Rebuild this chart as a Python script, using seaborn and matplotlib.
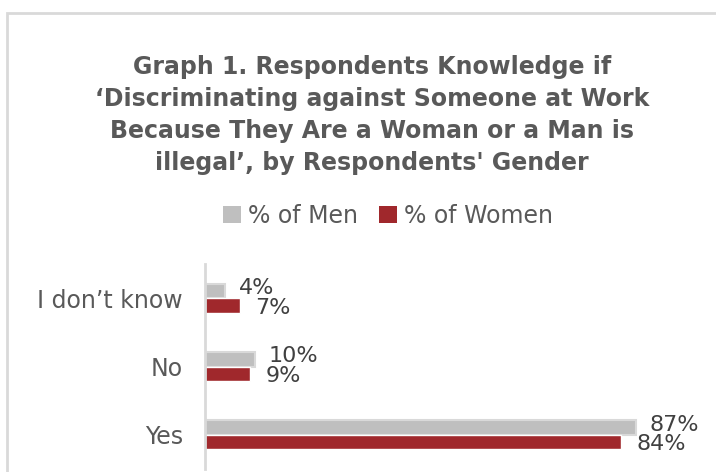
import matplotlib
matplotlib.use("Agg")
import matplotlib.pyplot as plt
import seaborn as sns
import pandas as pd
from matplotlib.patches import Rectangle, Patch

categories = ["I don\u2019t know", "No", "Yes"]
men = [4, 10, 87]
women = [7, 9, 84]
series = ["% of Men", "% of Women"]
title = ("Graph 1. Respondents Knowledge if\n\u2018Discriminating against Someone at Work\n"
         "Because They Are a Woman or a Man is\nillegal\u2019, by Respondents' Gender")

df = pd.DataFrame({
    "cat": categories * 2,
    "val": men + women,
    "series": [series[0]] * 3 + [series[1]] * 3,
})

sns.set_theme(style="white")
plt.rcParams["font.family"] = ["DejaVu Sans"]

W, H = 716, 472
fig = plt.figure(figsize=(W / 100, H / 100), dpi=100)
fig.patch.set_facecolor("white")

# outer border (cropped at right/bottom)
fig.patches.append(Rectangle((7 / W, -0.1), 2.0, 1 - 13 / H + 0.1, transform=fig.transFigure,
                             fill=False, edgecolor="#D9D9D9", linewidth=2))

ax = fig.add_axes([205 / W, 1 - 469 / H, (700 - 205) / W, (469 - 264) / H])
palette = {series[0]: "#BFBFBF", series[1]: "#A0282C"}
sns.barplot(data=df, x="val", y="cat", hue="series", hue_order=series, order=categories,
            palette=palette, orient="h", width=0.42, ax=ax, legend=False, saturation=1)

for p in ax.patches[:3]:
    p.set_edgecolor("#D9D9D9")
    p.set_linewidth(1.5)

ax.set_xlim(0, 100)
ax.set_xlabel("")
ax.set_ylabel("")
ax.set_xticks([])
for s in ["top", "right", "bottom"]:
    ax.spines[s].set_visible(False)
ax.spines["left"].set_color("#D9D9D9")
ax.spines["left"].set_linewidth(2)
ax.tick_params(axis="y", length=0, pad=16, labelsize=17, labelcolor="#595959")

for i, c in enumerate(categories):
    ax.text(men[i] + 2.8, i - 0.15, f"{men[i]}%", va="center", ha="left", fontsize=16, color="#404040")
    ax.text(women[i] + 3.2, i + 0.14, f"{women[i]}%", va="center", ha="left", fontsize=16, color="#404040")

fig.text(372 / W, 1 - 115 / H, title, ha="center", va="center", fontsize=17, fontweight="bold",
         color="#595959", linespacing=1.42)

handles = [Patch(facecolor=palette[s], edgecolor="none") for s in series]
fig.legend(handles, series, loc="center", bbox_to_anchor=(388 / W, 1 - 216 / H), ncol=2, frameon=False,
           fontsize=17, labelcolor="#595959", handlelength=0.75, handleheight=0.75, handletextpad=0.3,
           columnspacing=0.9)

fig.savefig("out.png", dpi=100)
